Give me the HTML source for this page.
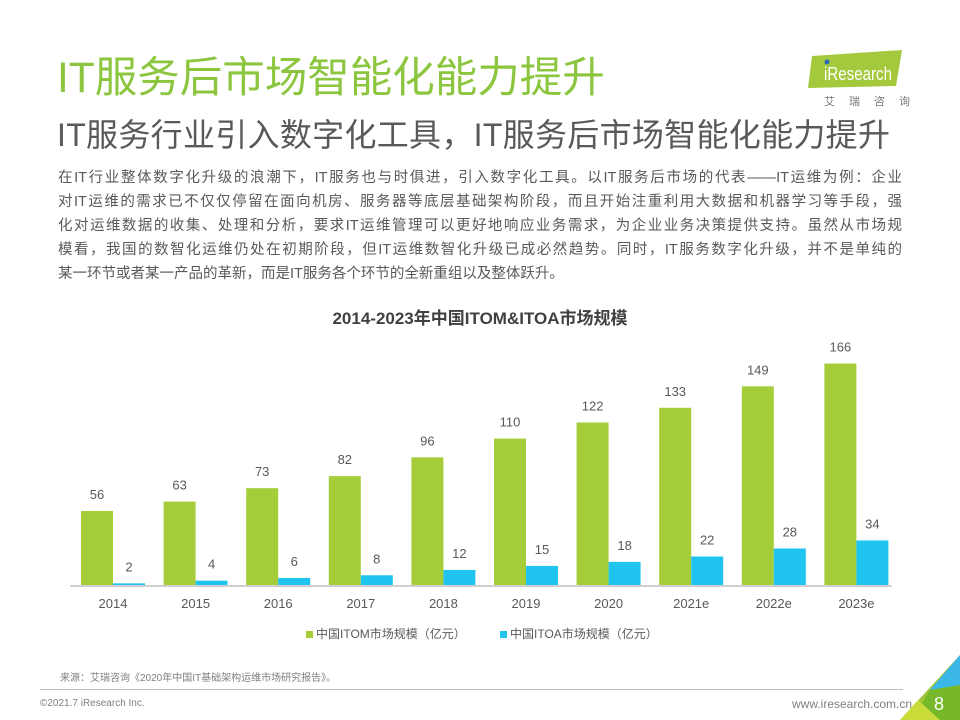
<!DOCTYPE html>
<html><head><meta charset="utf-8"><style>
body{margin:0;width:960px;height:720px;position:relative;background:#fff;font-family:"Liberation Sans","Noto Sans CJK SC",sans-serif;overflow:hidden}
.a{position:absolute;white-space:nowrap}
.body div{text-align:justify;text-align-last:justify;height:24px;line-height:24px}
</style></head><body>
<div class="a" style="left:57px;top:51px;font-size:42.5px;color:#8cc63f;line-height:56px">IT服务后市场智能化能力提升</div>
<div class="a" style="left:57px;top:114px;font-size:32px;color:#595959;line-height:42px;letter-spacing:0.3px">IT服务行业引入数字化工具，IT服务后市场智能化能力提升</div>
<div class="a body" style="left:58px;top:166px;width:844px;font-size:14.5px;color:#595959">
<div>在IT行业整体数字化升级的浪潮下，IT服务也与时俱进，引入数字化工具。以IT服务后市场的代表——IT运维为例：企业</div>
<div>对IT运维的需求已不仅仅停留在面向机房、服务器等底层基础架构阶段，而且开始注重利用大数据和机器学习等手段，强</div>
<div>化对运维数据的收集、处理和分析，要求IT运维管理可以更好地响应业务需求，为企业业务决策提供支持。虽然从市场规</div>
<div>模看，我国的数智化运维仍处在初期阶段，但IT运维数智化升级已成必然趋势。同时，IT服务数字化升级，并不是单纯的</div>
<div style="text-align-last:left">某一环节或者某一产品的革新，而是IT服务各个环节的全新重组以及整体跃升。</div>
</div>
<svg class="a" style="left:790px;top:48px" width="120" height="60">
<polygon points="22,8 112,2 106,38 18,40" fill="#a5c93c"/>
<circle cx="37" cy="14" r="2.5" fill="#2a6db5"/>
<text x="34" y="32" font-size="18" fill="#fff" font-family="Liberation Sans" textLength="68" lengthAdjust="spacingAndGlyphs">iResearch</text>
<text x="34" y="57" font-size="11" fill="#777" letter-spacing="14" font-family="Noto Sans CJK SC">艾瑞咨询</text>
</svg>
<div class="a" style="left:0;width:960px;text-align:center;top:304px;font-size:17px;font-weight:bold;color:#404040">2014-2023年中国ITOM&amp;ITOA市场规模</div>
<svg class="a" style="left:0;top:330px" width="960" height="320" font-family="Liberation Sans" font-size="13" fill="#595959">
<g id="bars"></g>
<line x1="70" y1="256" x2="892" y2="256" stroke="#d0d0d0" stroke-width="2"/>
</svg>
<div class="a" style="left:306px;top:625px;font-size:12px;color:#595959"><span style="display:inline-block;width:7px;height:7px;background:#a5cd39;margin-right:3px"></span>中国ITOM市场规模（亿元）</div>
<div class="a" style="left:500px;top:625px;font-size:12px;color:#595959"><span style="display:inline-block;width:7px;height:7px;background:#1fc4ef;margin-right:3px"></span>中国ITOA市场规模（亿元）</div>
<div class="a" style="left:60px;top:669px;font-size:10px;color:#7f7f7f">来源：艾瑞咨询《2020年中国IT基础架构运维市场研究报告》。</div>
<div class="a" style="left:40px;top:689px;width:863px;height:1px;background:#bfbfbf"></div>
<div class="a" style="left:40px;top:698px;font-size:10px;color:#7f7f7f">©2021.7 iResearch Inc.</div>
<div class="a" style="left:792px;top:697px;font-size:12px;color:#7f7f7f">www.iresearch.com.cn</div>
<svg class="a" style="left:900px;top:640px" width="60" height="80">
<polygon points="60,15 60,80 0,80" fill="#9fc63b"/>
<polygon points="60,15 60,45 30,50" fill="#3bb8e8"/>
<polygon points="30,50 60,45 60,80 12,80" fill="#76b82a"/>
<polygon points="0,80 40,80 18,60" fill="#c9dc3a"/>
<text x="34" y="70" font-size="18" fill="#fff" font-family="Liberation Sans">8</text>
</svg>
<script>
var g=document.getElementById('bars'),yr=['2014','2015','2016','2017','2018','2019','2020','2021e','2022e','2023e'],
a=[56,63,73,82,96,110,122,133,149,166],b=[2,4,6,8,12,15,18,22,28,34],s='',k=1.34;
for(var i=0;i<10;i++){var x=81+82.6*i,ha=a[i]*k,hb=b[i]*k;
s+='<rect x="'+x+'" y="'+(256-ha)+'" width="32" height="'+ha+'" fill="#a5cd39"/>';
s+='<rect x="'+(x+32)+'" y="'+(256-hb)+'" width="32" height="'+hb+'" fill="#1fc4ef"/>';
s+='<text x="'+(x+16)+'" y="'+(256-ha-12)+'" text-anchor="middle">'+a[i]+'</text>';
s+='<text x="'+(x+48)+'" y="'+(256-hb-12)+'" text-anchor="middle">'+b[i]+'</text>';
s+='<text x="'+(x+32)+'" y="278" text-anchor="middle">'+yr[i]+'</text>';}
g.innerHTML=s;
</script>
</body></html>
